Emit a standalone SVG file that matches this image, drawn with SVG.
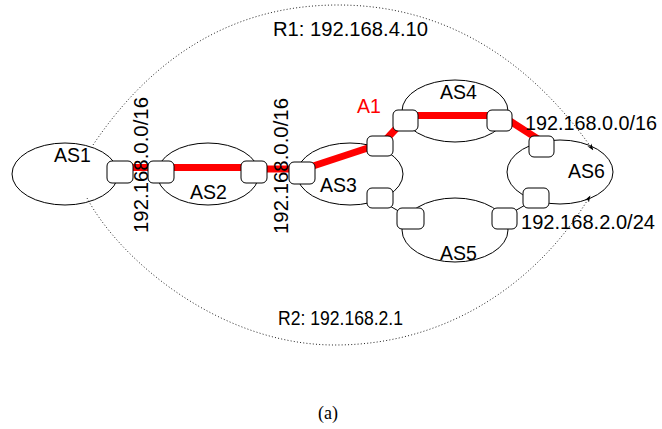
<svg xmlns="http://www.w3.org/2000/svg" width="662" height="429" viewBox="0 0 662 429">
  <defs>
    <marker id="tip" viewBox="0 0 10 10" refX="9" refY="5" markerWidth="7" markerHeight="7" markerUnits="userSpaceOnUse" orient="auto">
      <path d="M0,1.5 L10,5 L0,8.5 L3,5 Z" fill="#000"/>
    </marker>
    <style>
      .as { fill: none; stroke: #000; stroke-width: 1; }
      .rt { fill: #fff; stroke: #000; stroke-width: 1; }
      .lbl { font-family: "Liberation Sans", Arial, sans-serif; font-size: 19.5px; fill: #000; }
      .red { stroke: #f00; stroke-width: 7; fill: none; }
      .link { stroke: #000; stroke-width: 1; fill: none; }
      .route { stroke: #222; stroke-width: 1; stroke-dasharray: 1 2.2; fill: none; }
    </style>
  </defs>
  <rect width="662" height="429" fill="#fff"/>

  <!-- AS domains -->
  <g id="as1"><ellipse class="as" cx="65" cy="174" rx="53" ry="31"/><text class="lbl" x="54" y="162">AS1</text></g>
  <g id="as2"><ellipse class="as" cx="208" cy="174" rx="51" ry="31"/><text class="lbl" x="190" y="199">AS2</text></g>
  <g id="as3"><ellipse class="as" cx="350" cy="174" rx="53" ry="31"/><text class="lbl" x="320" y="192">AS3</text></g>
  <g id="as4"><ellipse class="as" cx="455" cy="111" rx="53" ry="31"/><text class="lbl" x="440" y="99">AS4</text></g>
  <g id="as5"><ellipse class="as" cx="455" cy="230" rx="53" ry="32"/><text class="lbl" x="440" y="260">AS5</text></g>
  <g id="as6"><ellipse class="as" cx="560" cy="172" rx="53" ry="32"/><text class="lbl" x="568" y="178">AS6</text></g>

  <!-- links and announced routes -->
  <g id="connectors">
    <path class="route" d="M93,145 C150,60 230,5 338,5 C445,5 530,60 593,150" marker-end="url(#tip)"/>
    <path class="route" d="M87,198 C120,260 220,345 335,345 C450,345 540,280 590,196" marker-end="url(#tip)"/>
    <line class="red" x1="130" y1="167.5" x2="245" y2="167.5"/>
    <line class="red" x1="265" y1="169" x2="292" y2="169"/>
    <line class="red" x1="301" y1="170" x2="380" y2="144"/>
    <line class="red" x1="380" y1="146" x2="405" y2="119"/>
    <line class="red" x1="410" y1="115.5" x2="495" y2="115.5"/>
    <line class="red" x1="499" y1="114" x2="541" y2="141"/>
    <line class="link" x1="388" y1="205" x2="402" y2="213"/>
    <line class="link" x1="513" y1="212" x2="527" y2="204"/>
  </g>

  <!-- border routers -->
  <g id="routers">
    <rect id="r-as1" class="rt" x="107" y="161" width="26" height="22" rx="5"/>
    <rect id="r-as2a" class="rt" x="148" y="161" width="26" height="22" rx="5"/>
    <rect id="r-as2b" class="rt" x="241" y="161" width="26" height="22" rx="5"/>
    <rect id="r-as3a" class="rt" x="289" y="162" width="26" height="22" rx="5"/>
    <rect id="r-as3b" class="rt" x="367" y="136" width="26" height="20" rx="5"/>
    <rect id="r-as3c" class="rt" x="367" y="188" width="26" height="20" rx="5"/>
    <rect id="r-as4a" class="rt" x="393" y="110" width="25" height="21" rx="5"/>
    <rect id="r-as4b" class="rt" x="487" y="110" width="25" height="21" rx="5"/>
    <rect id="r-as5a" class="rt" x="397" y="208" width="27" height="21" rx="5"/>
    <rect id="r-as5b" class="rt" x="492" y="208" width="25" height="21" rx="5"/>
    <rect id="r-as6a" class="rt" x="529" y="136" width="25" height="21" rx="5"/>
    <rect id="r-as6b" class="rt" x="523" y="188" width="26" height="20" rx="5"/>
  </g>

  <!-- labels -->
  <g id="labels">
    <text class="lbl" x="273" y="36" textLength="155" lengthAdjust="spacingAndGlyphs">R1: 192.168.4.10</text>
    <text class="lbl" x="278" y="325" textLength="125" lengthAdjust="spacingAndGlyphs">R2: 192.168.2.1</text>
    <text class="lbl" x="148" y="233" transform="rotate(-90 148 233)" textLength="136" lengthAdjust="spacingAndGlyphs">192.168.0.0/16</text>
    <text class="lbl" x="288" y="234" transform="rotate(-90 288 234)" textLength="136" lengthAdjust="spacingAndGlyphs">192.168.0.0/16</text>
    <text class="lbl" x="525" y="130" textLength="132" lengthAdjust="spacingAndGlyphs">192.168.0.0/16</text>
    <text class="lbl" x="521" y="229" textLength="134" lengthAdjust="spacingAndGlyphs">192.168.2.0/24</text>
    <text class="lbl" x="357" y="113" style="fill:#f00">A1</text>
    <text x="318" y="419" font-family="'Liberation Serif', 'Times New Roman', serif" font-size="18" fill="#000">(a)</text>
  </g>
</svg>
